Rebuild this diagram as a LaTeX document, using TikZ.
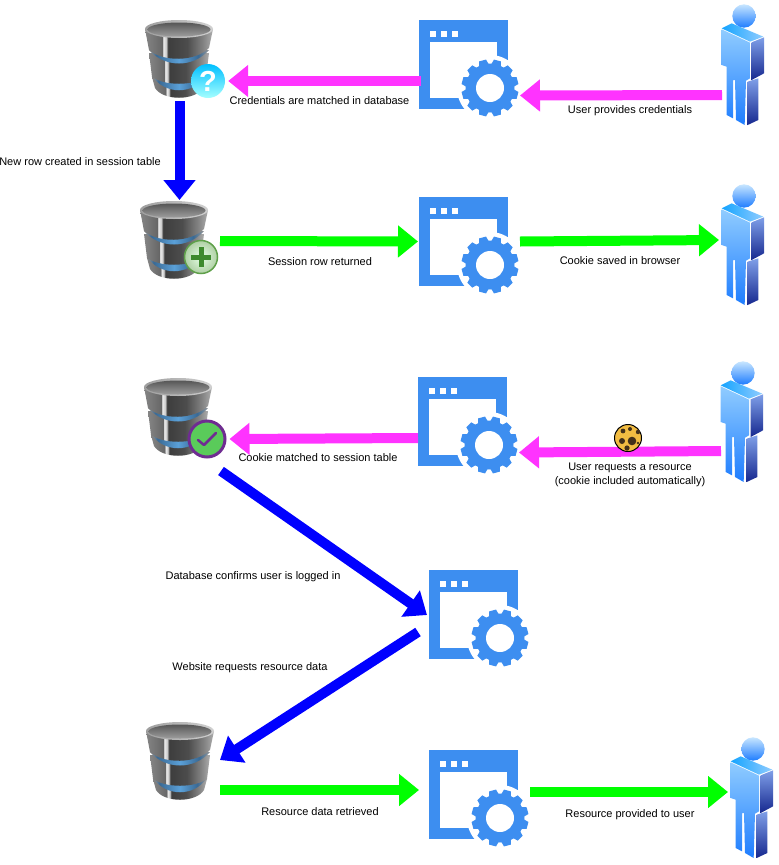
\documentclass[tikz,border=0pt]{standalone}
\usepackage{fontspec}
\setmainfont{Liberation Sans}
\usetikzlibrary{arrows.meta}

\definecolor{arrowpink}{HTML}{FF33FF}
\definecolor{arrowgreen}{HTML}{00FF00}
\definecolor{arrowblue}{HTML}{0000FF}
\definecolor{appblue}{HTML}{3D8EF0}
\definecolor{okpurple}{HTML}{6F2C91}
\definecolor{okgreen}{HTML}{5ACB5A}
\definecolor{addedge}{HTML}{5FA04A}
\definecolor{addplus}{HTML}{3E8A2E}
\definecolor{cookiefill}{HTML}{F2BC42}
\definecolor{cookiespot}{HTML}{43301A}
\definecolor{bandblue}{HTML}{5AA0D8}
\definecolor{bandedge}{HTML}{3A6A95}
\definecolor{userlight}{HTML}{90CCFF}
\definecolor{usermid}{HTML}{1E7DFF}
\definecolor{sidelight}{HTML}{7F9FE8}
\definecolor{sidedark}{HTML}{16288F}

\pgfdeclarehorizontalshading{dbbody}{100bp}{color(0bp)=(black!48); color(25bp)=(black!48); color(36bp)=(black!58); color(37.5bp)=(black!60); color(38.5bp)=(black!7); color(40.5bp)=(black!20); color(42bp)=(black!76); color(56bp)=(black!70); color(68bp)=(black!48); color(75bp)=(black!32); color(100bp)=(black!32)}
\pgfdeclarehorizontalshading{dbband}{100bp}{color(0bp)=(black!40); color(25bp)=(black!40); color(31bp)=(bandedge); color(50bp)=(bandblue); color(66bp)=(bandedge); color(75bp)=(black!40); color(100bp)=(black!40)}

\tikzset{
    iconbox/.style={minimum width=#1, inner sep=0pt, outer sep=0pt},
    caption/.style={font=\fontsize{11}{14}\selectfont, align=center},
    pushpink/.style={-{Triangle[length=20pt,width=31pt]}, line width=10pt, arrowpink},
    pushgreen/.style={-{Triangle[length=20pt,width=31pt]}, line width=10pt, arrowgreen},
    pushblue/.style={-{Triangle[length=20pt,width=31pt]}, line width=10pt, arrowblue},
    pics/dbicon/.style={code={
        \begin{scope}[shift={(-34,-39)}]
        \shade[shading=dbbody] (7,57)--(10,68)..controls (18,81) and (50,81)..(58,68)--(61,57)--cycle;
        \shade[shading=dbband] (7,56)..controls (20,75) and (48,75)..(61,56)--cycle;
        \shade[shading=dbbody] (4,33)--(7,57)..controls (20,66) and (48,66)..(61,57)--(64,33)--cycle;
        \shade[shading=dbband] (4,30)..controls (20,48) and (48,48)..(64,30)--cycle;
        \shade[shading=dbbody] (0,9)--(4,30)..controls (18,42) and (50,42)..(64,28)--(68,9)--cycle;
        \shade[left color=black!38, right color=black!18] (34,9) ellipse (34 and 9);
        \shade[top color=black!66, bottom color=black!38] (34,9.5) ellipse (31.5 and 7);
        \end{scope}
    }},
    pics/appicon/.style={code={
        \begin{scope}[shift={(-44.5,-44.5)}]
        \fill[appblue] (0,0) rectangle (89,89);
        \fill[white] (11,22) rectangle (78,78);
        \foreach \x in {11,22,33}
        {
            \fill[white] (\x-.5,11) rectangle (\x+5.5,17);
        }
        \fill[white] (71,68) circle (33);
        \foreach \a in {15,45,...,345}
        {
            \fill[appblue, rotate around={\a:(71,68)}] (94,63) -- (99.5,64.5) -- (99.5,71.5) -- (94,73) -- cycle;
        }
        \fill[appblue] (71,68) circle (24.5);
        \fill[white] (71,68) circle (14);
        \end{scope}
    }},
    pics/usericon/.style={code={
        \begin{scope}[shift={(-44,-65)}, scale=1/3]
        \shade[top color=userlight!50!white, bottom color=usermid] (132,48) circle (35);
        \shade[left color=usermid!70!cyan, right color=userlight] (65,85) -- (95,70) -- (190,110) -- (150,125) -- cycle;
        \shade[top color=userlight, bottom color=usermid] (65,88) -- (150,128) -- (150,235) -- (138,242) -- (134,375) -- (108,360) -- (105,240) -- (99,240) -- (99,355) -- (80,345) -- (80,200) -- (65,195) -- cycle;
        \shade[top color=sidelight, bottom color=sidedark] (155,127) -- (192,112) -- (192,220) -- (155,240) -- cycle;
        \shade[top color=sidelight, bottom color=sidedark] (143,245) -- (175,235) -- (175,360) -- (143,375) -- cycle;
        \end{scope}
    }}
}

\begin{document}
\begin{tikzpicture}[x=1pt, y=-1pt]
\useasboundingbox (0,0) rectangle (779,865);

% top pair of rows
\node[iconbox=68pt, minimum height=78pt] (db1) at (179,59) {};
\node[iconbox=89pt, minimum height=89pt] (app1) at (463.5,64.5) {};
\node[iconbox=44pt, minimum height=120pt] (user1) at (744,65) {};
\node[iconbox=68pt, minimum height=78pt] (db2) at (174,240) {};
\node[iconbox=89pt, minimum height=89pt] (app2) at (463.5,241.5) {};
\node[iconbox=44pt, minimum height=120pt] (user2) at (744,245) {};

% middle row
\node[iconbox=68pt, minimum height=78pt] (db3) at (178,417) {};
\node[iconbox=89pt, minimum height=89pt] (app3) at (462.5,421.5) {};
\node[iconbox=44pt, minimum height=120pt] (user3) at (743,422) {};

% bottom rows
\node[iconbox=89pt, minimum height=89pt] (app4) at (473.5,614.5) {};
\node[iconbox=68pt, minimum height=78pt] (db4) at (180,761) {};
\node[iconbox=89pt, minimum height=89pt] (app5) at (473.5,794.5) {};
\node[iconbox=44pt, minimum height=120pt] (user4) at (753,798) {};

\foreach \n in {db1,db2,db3,db4}
{
    \pic at (\n) {dbicon};
}
\foreach \n in {app1,app2,app3,app4,app5}
{
    \pic at (\n) {appicon};
}
\foreach \n in {user1,user2,user3,user4}
{
    \pic at (\n) {usericon};
}

% badges
\node[circle, minimum size=34pt, inner sep=0pt, top color=cyan!75!blue, bottom color=cyan!35, text=white, font=\fontsize{29}{29}\bfseries\selectfont] (ask) at (208,81) {?};
\node[circle, minimum size=33pt, inner sep=0pt, draw=addedge, line width=1.5pt, inner color=green!10!white, outer color=addedge!50!white] (add) at (201,257) {};
\draw[addplus, line width=5pt] ([shift={(-10,0)}]add.center) -- ([shift={(10,0)}]add.center);
\draw[addplus, line width=5pt] ([shift={(0,-10)}]add.center) -- ([shift={(0,10)}]add.center);
\node[circle, minimum size=36pt, inner sep=0pt, draw=okpurple, line width=3pt, fill=okgreen] (okay) at (207,439) {};
\draw[okpurple, line width=2.5pt, line cap=round, line join=round] ([shift={(-9,1)}]okay.center) -- ([shift={(-3,6)}]okay.center) -- ([shift={(9,-6)}]okay.center);

% connectors
\draw[pushpink] ([shift={(2,16.5)}]app1.west) -- ([shift={(3,0)}]ask.east);
\draw[pushpink] ([shift={(0,30)}]user1.west) -- ([shift={(12,31)}]app1.east);
\draw[pushblue] ([shift={(0.5,3)}]db1.south) -- ([shift={(5.5,-1)}]db2.north);
\draw[pushgreen] ([shift={(12,1)}]db2.east) -- ([shift={(-1,0)}]app2.west);
\draw[pushgreen] ([shift={(12,0)}]app2.east) -- ([shift={(-3,-5)}]user2.west);
\draw[pushpink] ([shift={(0,16.5)}]app3.west) -- ([shift={(3,0)}]okay.east);
\draw[pushpink] ([shift={(0,29)}]user3.west) -- ([shift={(12,31)}]app3.east);
\draw[pushblue] ([shift={(43,15)}]db3.south) -- ([shift={(-2,0.5)}]app4.west);
\draw[pushblue] ([shift={(-11,17.5)}]app4.west) -- ([shift={(6,-1)}]db4.east);
\draw[pushgreen] ([shift={(6,29)}]db4.east) -- ([shift={(-10,-4.5)}]app5.west);
\draw[pushgreen] ([shift={(12,-2.5)}]app5.east) -- ([shift={(-3,-6)}]user4.west);

% cookie
\node[circle, minimum size=27pt, inner sep=0pt, draw=black, line width=1pt, fill=cookiefill] (cookie) at (628,438) {};
\foreach \x/\y/\r in {-5/-7/2.4, 2/-9/2, 10/-6/2.2, -6/3/3, 4/3/4.3, -1/10/2.6, 10/5/1.4}
{
    \fill[cookiespot] ([shift={(\x,\y)}]cookie.center) circle (\r);
}

% labels
\node[caption] (t1) at (319.5,100.5) {Credentials are matched in database};
\node[caption] (t2) at (630,110.5) {User provides credentials};
\node[caption] (t3) at (80,161.5) {New row created in session table};
\node[caption] (t4) at (320,261.5) {Session row returned};
\node[caption] (t5) at (620,260.5) {Cookie saved in browser};
\node[caption] (t6) at (318,457.5) {Cookie matched to session table};
\node[caption] (t7) at (630,474.5) {User requests a resource\\(cookie included automatically)};
\node[caption] (t8) at (253,576.5) {Database confirms user is logged in};
\node[caption] (t9) at (250,667.5) {Website requests resource data};
\node[caption] (t10) at (320,811.5) {Resource data retrieved};
\node[caption] (t11) at (630,814.5) {Resource provided to user};
\end{tikzpicture}
\end{document}
